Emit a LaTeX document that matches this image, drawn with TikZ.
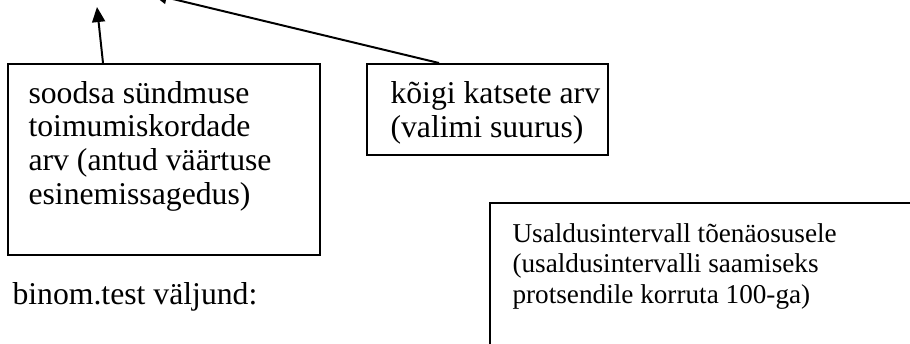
\documentclass[tikz,border=0pt]{standalone}
\usepackage{fontspec}
\setmainfont{Liberation Serif}
\usetikzlibrary{arrows.meta,calc,fit}

\tikzset{
  frame/.style={draw, line width=0.75pt, inner sep=0pt},
  words/.style={anchor=base west, align=left, inner sep=0pt, font=\fontsize{12}{12.7}\selectfont},
  smallwords/.style={words, font=\fontsize{10.3}{11.4}\selectfont},
  pointer/.style={line width=0.75pt, -{Triangle[length=5.7pt,width=4.9pt]}}
}

\begin{document}
\begin{tikzpicture}[x=0.3785pt, y=-0.3785pt]
    % Picture area, cut at the edges
    \path[use as bounding box, clip] (0,0) rectangle (910,343);

    % Frames of the three text boxes
    \node[frame, fit={(8,64) (320,255)}] (soodsa) {};
    \node[frame, fit={(367,64) (608,155)}] (katsed) {};
    \node[frame, fit={(490,203) (930,370)}] (usaldus) {};

    % Texts (placed at the baseline of their last line)
    \node[words] (soodsatxt) at (28,204) {soodsa sündmuse\\toimumiskordade\\arv (antud väärtuse\\esinemissagedus)};
    \node[words] (katsedtxt) at (390,137) {kõigi katsete arv\\(valimi suurus)};
    \node[smallwords] (usaldustxt) at (512,303) {Usaldusintervall tõenäosusele\\(usaldusintervalli saamiseks\\protsendile korruta 100-ga)};
    \node[words] (valjund) at (12,304) {binom.test väljund:};

    % Arrows pointing up
    \coordinate (tip1) at (97,7);
    \coordinate (tip2) at (152,-6);
    \draw[pointer] ($(soodsa.north west)+(96,0)$) -- (tip1);
    \draw[pointer] ($(katsed.north west)+(73,0)$) -- (tip2);
\end{tikzpicture}
\end{document}
